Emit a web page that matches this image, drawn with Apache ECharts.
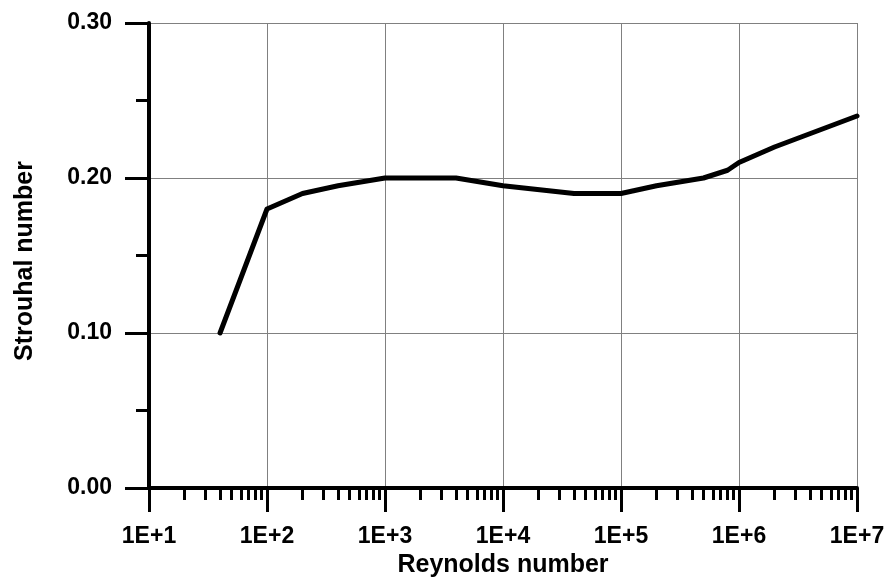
<!DOCTYPE html>
<html>
<head>
<meta charset="utf-8">
<script src="https://cdn.jsdelivr.net/npm/echarts@6/dist/echarts.min.js"></script>
<style>
html,body{margin:0;padding:0;background:#fff;}
#chart{width:885px;height:577px;}
</style>
</head>
<body>
<div id="chart"></div>
<script>
// Data
var reynolds = [40, 100, 200, 400, 1000, 4000, 10000, 40000, 100000, 200000, 500000, 800000, 1000000, 2000000, 10000000];
var strouhal = [0.10, 0.18, 0.19, 0.195, 0.20, 0.20, 0.195, 0.19, 0.19, 0.195, 0.20, 0.205, 0.21, 0.22, 0.24];
var xDecades = [10, 100, 1000, 10000, 100000, 1000000, 10000000];
var minorMultipliers = [2, 3, 4, 5, 6, 7, 8, 9];
var xTitle = 'Reynolds number';
var yTitle = 'Strouhal number';

var minorTickValues = [];
for (var i = 0; i < xDecades.length - 1; i++) {
  for (var j = 0; j < minorMultipliers.length; j++) {
    minorTickValues.push(xDecades[i] * minorMultipliers[j]);
  }
}
var seriesData = reynolds.map(function (r, k) { return [r, strouhal[k]]; });

var FONT = '"Liberation Sans", Arial, sans-serif';
var chart = echarts.init(document.getElementById('chart'));
chart.setOption({
  backgroundColor: '#ffffff',
  animation: false,
  grid: { left: 149, right: 28, top: 23, bottom: 89, containLabel: false, outerBoundsMode: 'none' },
  xAxis: [
    {
      type: 'log', logBase: 10, min: 10, max: 10000000, position: 'bottom',
      axisLine: { show: true, onZero: false, lineStyle: { color: '#000', width: 4 } },
      axisTick: { show: true, inside: false, length: 24, customValues: xDecades, lineStyle: { color: '#000', width: 3 } },
      axisLabel: {
        show: true, margin: 37, color: '#000', fontFamily: FONT, fontWeight: 'bold', fontSize: 23,
        customValues: xDecades,
        formatter: function (v) { return '1E+' + Math.round(Math.log10(v)); }
      },
      splitLine: { show: true, lineStyle: { color: '#808080', width: 1 } },
      minorTick: { show: false },
      name: xTitle, nameLocation: 'middle', nameGap: 65,
      nameTextStyle: { color: '#000', fontFamily: FONT, fontWeight: 'bold', fontSize: 25 }
    },
    {
      type: 'log', logBase: 10, min: 10, max: 10000000, position: 'bottom',
      axisLine: { show: false },
      axisTick: { show: true, length: 12, customValues: minorTickValues, lineStyle: { color: '#000', width: 3 } },
      axisLabel: { show: false },
      splitLine: { show: false }
    }
  ],
  yAxis: {
    type: 'value', min: 0, max: 0.3, interval: 0.1,
    axisLine: { show: true, onZero: false, lineStyle: { color: '#000', width: 4 } },
    axisTick: { show: true, length: 24, lineStyle: { color: '#000', width: 3 } },
    minorTick: { show: true, splitNumber: 2, length: 13, lineStyle: { color: '#000', width: 3 } },
    axisLabel: {
      margin: 37, color: '#000', fontFamily: FONT, fontWeight: 'bold', fontSize: 23,
      formatter: function (v) { return v.toFixed(2); }
    },
    splitLine: { show: true, lineStyle: { color: '#808080', width: 1 } },
    name: yTitle, nameLocation: 'middle', nameGap: 111, nameRotate: 90,
    nameTextStyle: { color: '#000', fontFamily: FONT, fontWeight: 'bold', fontSize: 25, padding: [0, 11, 0, 0] }
  },
  series: [{
    type: 'line', xAxisIndex: 0, yAxisIndex: 0, data: seriesData,
    showSymbol: false, symbol: 'none', smooth: false,
    lineStyle: { color: '#000', width: 5, cap: 'round', join: 'round' }
  }]
});
</script>
</body>
</html>
